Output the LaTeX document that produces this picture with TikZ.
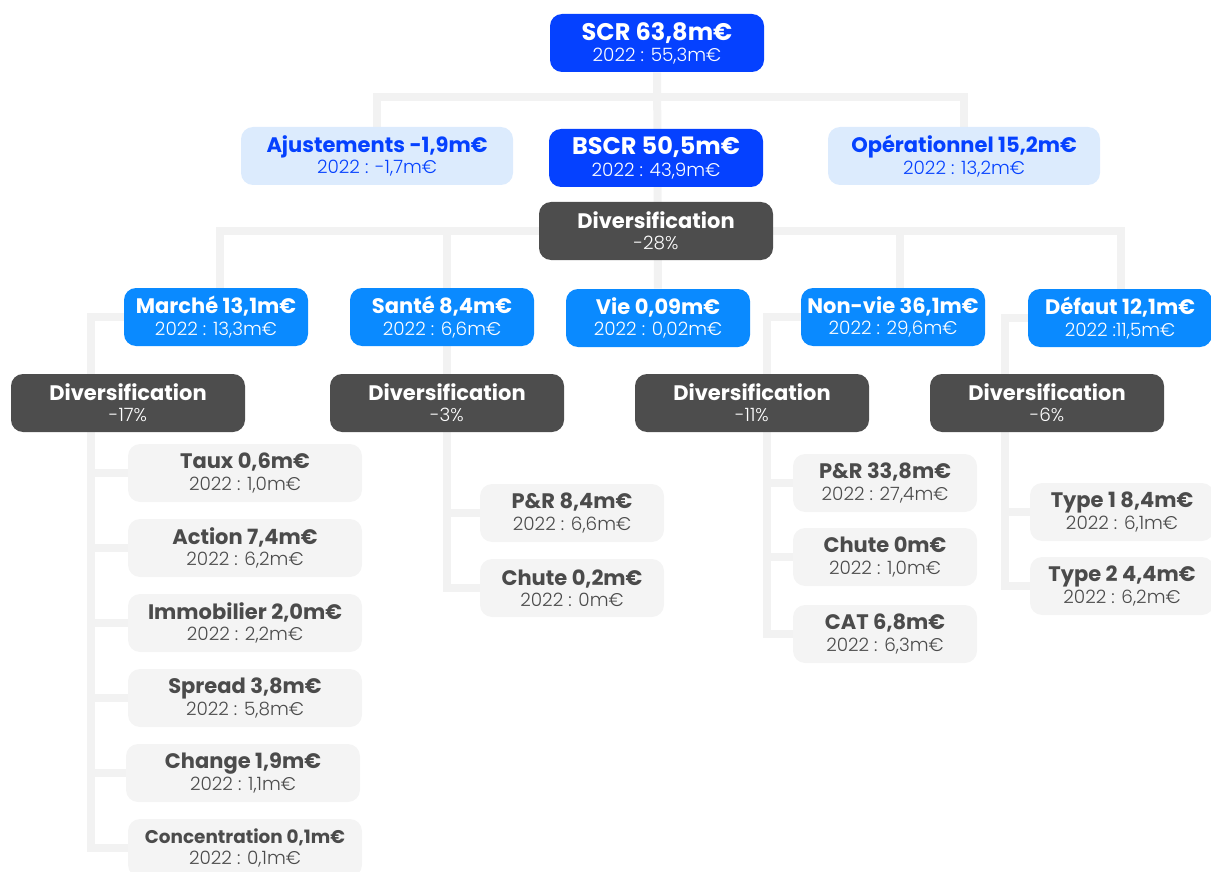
\documentclass[tikz,border=0pt]{standalone}
\usepackage{fontspec}
\setmainfont{Poppins}
\newfontfamily\lightf{Poppins}[UprightFont={* Light}]
\usepackage{tikz}
\usetikzlibrary{backgrounds}

\definecolor{scrblue}{RGB}{5,65,255}
\definecolor{paleblue}{RGB}{220,235,253}
\definecolor{riskblue}{RGB}{10,138,255}
\definecolor{divgray}{RGB}{77,77,77}
\definecolor{leafgray}{RGB}{244,244,244}
\definecolor{leaftext}{RGB}{75,75,75}
\definecolor{linegray}{RGB}{242,242,242}

\newcommand{\amt}[3][10.5pt]{{\fontsize{#1}{10.5pt}\selectfont\bfseries #2}\\{\lightf #3}}

\begin{document}
\begin{tikzpicture}[x=0.5pt,y=-0.5pt]
    \tikzstyle{base}=[rounded corners=6pt,minimum height=29pt,inner sep=0pt,align=center,
        font=\fontsize{9.2pt}{10.6pt}\selectfont]
    \tikzstyle{topbox}=[base,fill=scrblue,text=white,minimum width=107pt]
    \tikzstyle{sidebox}=[base,fill=paleblue,text=scrblue,minimum width=136pt]
    \tikzstyle{riskbox}=[base,fill=riskblue,text=white,minimum width=92pt]
    \tikzstyle{divbox}=[base,fill=divgray,text=white,minimum width=117pt]
    \tikzstyle{leafbox}=[base,fill=leafgray,text=leaftext,minimum width=117pt]
    \tikzstyle{smallleaf}=[leafbox,minimum width=92pt]
    \tikzstyle{link}=[draw=linegray,line width=4pt]
    \useasboundingbox (0,0) rectangle (1211,872);

    % top levels
    \node[topbox]  (scr)    at (657,43)  {\amt[12pt]{SCR 63,8m€}{2022 : 55,3m€}};
    \node[sidebox] (ajust)  at (377,156) {\amt{Ajustements -1,9m€}{2022 : -1,7m€}};
    \node[topbox]  (bscr)   at (656,158) {\amt[12pt]{BSCR 50,5m€}{2022 : 43,9m€}};
    \node[sidebox] (opera)  at (964,156) {\amt{Opérationnel 15,2m€}{2022 : 13,2m€}};
    \node[divbox]  (div)    at (656,231) {\amt{Diversification}{-28\%}};

    % risk modules
    \node[riskbox] (marche) at (216,317) {\amt{Marché 13,1m€}{2022 : 13,3m€}};
    \node[riskbox] (sante)  at (442,317) {\amt{Santé 8,4m€}{2022 : 6,6m€}};
    \node[riskbox] (vie)    at (658,318) {\amt{Vie 0,09m€}{2022 : 0,02m€}};
    \node[riskbox] (nonvie) at (893,317) {\amt{Non-vie 36,1m€}{2022 : 29,6m€}};
    \node[riskbox] (defaut) at (1120,318) {\amt{Défaut 12,1m€}{2022 :11,5m€}};

    \node[divbox] (divm) at (128,403)  {\amt{Diversification}{-17\%}};
    \node[divbox] (divs) at (447,403)  {\amt{Diversification}{-3\%}};
    \node[divbox] (divn) at (752,403)  {\amt{Diversification}{-11\%}};
    \node[divbox] (divd) at (1047,403) {\amt{Diversification}{-6\%}};

    % sub-modules
    \node[leafbox] (taux)   at (245,473) {\amt{Taux 0,6m€}{2022 : 1,0m€}};
    \node[leafbox] (action) at (245,548) {\amt{Action 7,4m€}{2022 : 6,2m€}};
    \node[leafbox] (immo)   at (245,623) {\amt{Immobilier 2,0m€}{2022 : 2,2m€}};
    \node[leafbox] (spread) at (245,698) {\amt{Spread 3,8m€}{2022 : 5,8m€}};
    \node[leafbox] (change) at (243,773) {\amt{Change 1,9m€}{2022 : 1,1m€}};
    \node[leafbox] (conc)   at (245,848) {\amt[9.2pt]{Concentration 0,1m€}{2022 : 0,1m€}};

    \node[smallleaf] (spr) at (572,513) {\amt{P\&R 8,4m€}{2022 : 6,6m€}};
    \node[smallleaf] (sch) at (572,588) {\amt{Chute 0,2m€}{2022 : 0m€}};

    \node[smallleaf] (npr)  at (885,483) {\amt{P\&R 33,8m€}{2022 : 27,4m€}};
    \node[smallleaf] (nch)  at (885,557) {\amt{Chute 0m€}{2022 : 1,0m€}};
    \node[smallleaf] (ncat) at (885,634) {\amt{CAT 6,8m€}{2022 : 6,3m€}};

    \node[smallleaf] (typ1) at (1122,512) {\amt{Type 1 8,4m€}{2022 : 6,1m€}};
    \node[smallleaf] (typ2) at (1122,586) {\amt{Type 2 4,4m€}{2022 : 6,2m€}};

    % connectors
    \coordinate (topbar) at (657,97);
    \coordinate (dm) at (220,231);
    \coordinate (ds) at (447,231);
    \coordinate (dn) at (900,231);
    \coordinate (dd) at (1121,231);
    \coordinate (mspine) at (91,317);
    \coordinate (nspine) at (767,317);
    \coordinate (dspine) at (1005,318);
    \begin{scope}[on background layer]
        \draw[link] (scr) -- (vie);
        \draw[link] (ajust) -- (ajust |- topbar) -- (opera |- topbar) -- (opera);
        \draw[link] (dm |- marche) -- (dm) -- (dd) -- (dd |- defaut);
        \draw[link] (dn) -- (dn |- nonvie);
        \draw[link] (ds) -- (ds |- sch) -- (sch.west);
        \draw[link] (ds |- spr) -- (spr.west);
        \draw[link] (marche.west) -- (mspine) -- (mspine |- conc) -- (conc.west);
        \foreach \leaf in {taux,action,immo,spread,change}
            \draw[link] (mspine |- \leaf) -- (\leaf.west);
        \draw[link] (nonvie.west) -- (nspine) -- (nspine |- ncat) -- (ncat.west);
        \foreach \leaf in {npr,nch}
            \draw[link] (nspine |- \leaf) -- (\leaf.west);
        \draw[link] (defaut.west) -- (dspine) -- (dspine |- typ2) -- (typ2.west);
        \draw[link] (dspine |- typ1) -- (typ1.west);
    \end{scope}
\end{tikzpicture}
\end{document}
